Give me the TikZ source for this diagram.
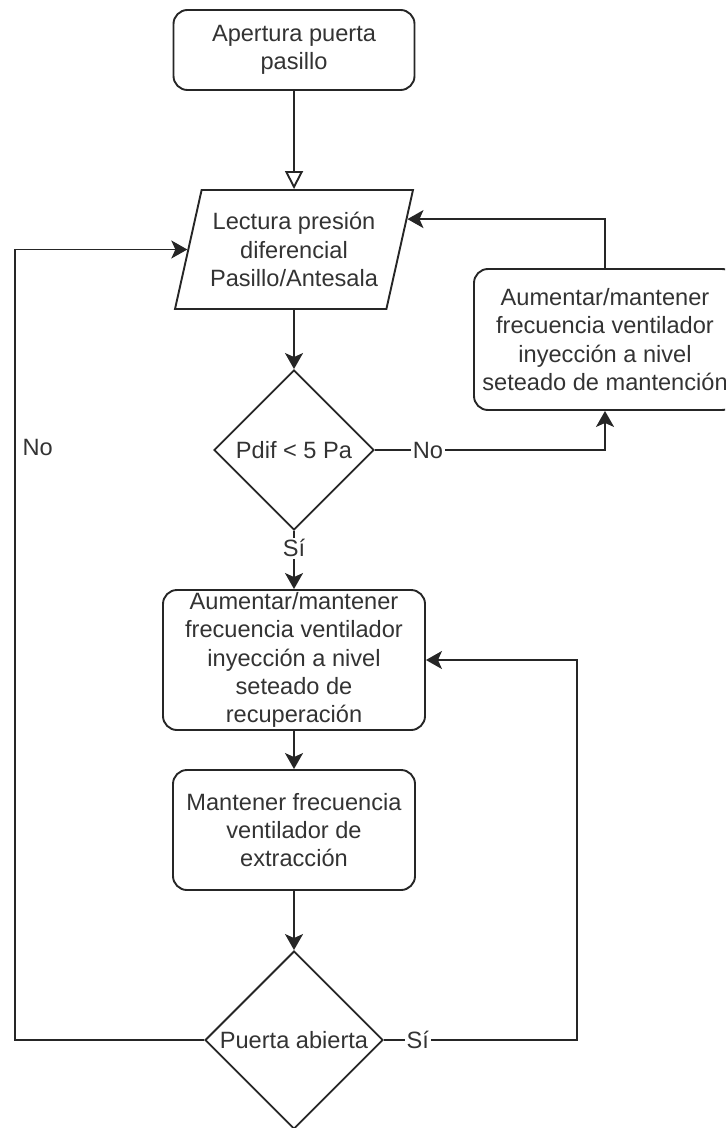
\documentclass[tikz,border=0pt]{standalone}
\usepackage{fontspec}
\setmainfont{Liberation Sans}
\usepackage{tikz}
\usetikzlibrary{arrows.meta}
\usetikzlibrary{shapes.geometric}
\tikzset{>={Stealth[length=8pt,width=9pt,inset=2pt]}}

\begin{document}
\begin{tikzpicture}[x=0.5pt, y=-0.5pt, line width=0.95pt, color=black!85, text=black!80,
        font=\fontsize{11.8}{14.2}\selectfont,
        caja/.style={draw, rounded corners=7pt, align=center, inner sep=0pt},
        rombo/.style={draw, diamond, aspect=1, align=center, inner sep=0pt},
        etiq/.style={fill=white, inner sep=1pt}]
            \useasboundingbox (0,0) rectangle (725,1128);
            \clip (0,0) rectangle (725,1128);

            % inicio
            \node[caja, minimum width=120.5pt, minimum height=40pt] (inicio) at (294,50) {Apertura puerta\\pasillo};

            % lectura
            \node[draw, trapezium, trapezium left angle=72, trapezium right angle=108,
                trapezium stretches=true, minimum width=119pt, minimum height=59.5pt,
                inner sep=0pt, align=center] (lectura) at (294,249.5) {Lectura presión\\diferencial\\Pasillo/Antesala};

            % decisiones y acciones
            \node[rombo, minimum width=80pt, minimum height=80pt] (pdif) at (294,450) {Pdif < 5 Pa};
            \node[caja, minimum width=131pt, minimum height=70.5pt] (mant) at (605,339.5) {Aumentar/mantener\\frecuencia ventilador\\inyección a nivel\\seteado de mantención};
            \node[caja, minimum width=131pt, minimum height=70pt] (recup) at (294,660) {Aumentar/mantener\\frecuencia ventilador\\inyección a nivel\\seteado de\\recuperación};
            \node[caja, minimum width=121pt, minimum height=60pt] (extr) at (294,830) {Mantener frecuencia\\ventilador de\\extracción};
            \node[rombo, minimum width=89pt, minimum height=89pt] (puerta) at (294,1040) {Puerta abierta};

            % flechas
            \draw[-{Triangle[open,length=9pt,width=9pt]}] (inicio) -- (lectura);
            \draw[->] (lectura) -- (pdif);
            \draw[->] (pdif.east) -| node[etiq, pos=0.115] {No} (mant.south);
            \draw[->] (mant.north) |- (lectura.15);
            \draw[->] (pdif) -- node[etiq, pos=0.3] {Sí} (recup);
            \draw[->] (recup) -- (extr);
            \draw[->] (extr) -- (puerta);

            % lazo Sí
            \coordinate (ladoSi) at (577,1040);
            \draw[->] (puerta.east) -- node[etiq, pos=0.175] {Sí} (ladoSi) |- (recup.east);

            % lazo No
            \coordinate (ladoNo) at (15,1040);
            \draw[->] (puerta.west) -- (ladoNo) -- node[right, pos=0.75] {No} (ladoNo |- lectura.west) -- (lectura.west);
        \end{tikzpicture}
\end{document}
